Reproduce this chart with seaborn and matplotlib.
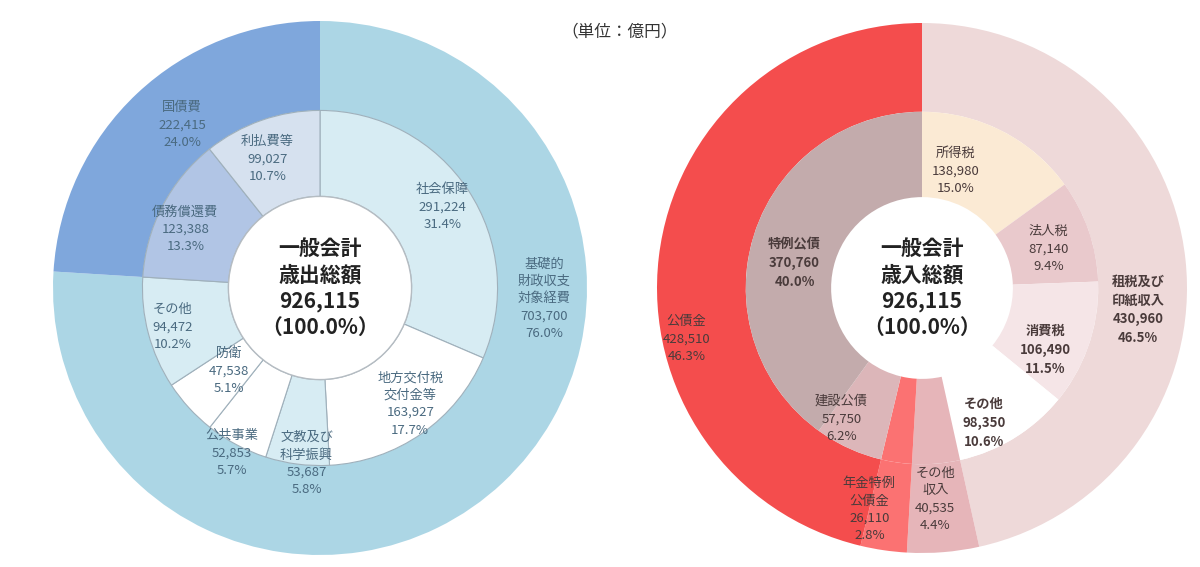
import numpy as np
import matplotlib
matplotlib.use("Agg")
import matplotlib.pyplot as plt
import seaborn as sns

sns.set_theme(style="white")
plt.rcParams['font.family'] = ['Noto Sans CJK JP', 'DejaVu Sans']

# 歳出（左）
exp_outer_names = ['基礎的\n財政収支\n対象経費', '国債費']
exp_outer_values = [703700, 222415]
exp_inner_names = ['社会保障', '地方交付税\n交付金等', '文教及び\n科学振興', '公共事業',
                   '防衛', 'その他', '債務償還費', '利払費等']
exp_inner_values = [291224, 163927, 53687, 52853, 47538, 94472, 123388, 99027]

# 歳入（右）
rev_outer_names = ['租税及び\n印紙収入', 'その他\n収入', '年金特例\n公債金', '公債金']
rev_outer_values = [430960, 40535, 26110, 428510]
rev_inner_names = ['所得税', '法人税', '消費税', 'その他', 'その他収入', '年金特例公債金',
                   '建設公債', '特例公債']
rev_inner_values = [138980, 87140, 106490, 98350, 40535, 26110, 57750, 370760]

total = 926115

# colours
exp_outer_colors = ['#acd6e5', '#7fa7dc']
exp_inner_colors = ['#d7ecf3', '#ffffff', '#d7ecf3', '#ffffff', '#ffffff', '#d7ecf3',
                    '#b1c5e5', '#d6e1ef']
rev_outer_colors = ['#eed9d9', '#e6b5b9', '#fb7272', '#f44d4d']
rev_inner_colors = ['#fbead4', '#e9c9cc', '#f5e5e7', '#ffffff', '#e6b5b9', '#fb7272',
                    '#dcb6b9', '#c3abac']

# label placement (radius, angle shift in degrees); None = no label
exp_outer_lab = [(0.84, -44), (0.80, 3)]
exp_inner_lab = [(0.55, 0), (0.55, -3), (0.66, -3), (0.70, 0), (0.46, 0), (0.57, 0),
                 (0.55, -4), (0.52, -3)]
rev_outer_lab = [(0.82, 12), (0.80, 1), (0.86, 5), (0.91, -19)]
rev_inner_lab = [(0.46, -11), (0.50, 2), (0.52, 8), (0.56, 7), None, None, (0.58, 7),
                 (0.49, -7)]
rev_bold = ['租税及び\n印紙収入', '消費税', 'その他', '特例公債']

R_OUT, R_IN, R_HOLE = 1.0, 0.665, 0.343

W, H = 1200, 567
fig = plt.figure(figsize=(12, 5.67), dpi=100)


def make_ax(cx, cy, r):
    ax = fig.add_axes([(cx - r) / W, (H - cy - r) / H, 2 * r / W, 2 * r / H])
    ax.set_xlim(-1, 1)
    ax.set_ylim(-1, 1)
    ax.set_aspect('equal')
    ax.axis('off')
    return ax


def add_labels(ax, names, values, specs, color, bold=()):
    vals = np.array(values, dtype=float)
    ends = np.cumsum(vals) / vals.sum() * 360
    mids = ends - vals / vals.sum() * 180
    for name, v, mid, spec in zip(names, values, mids, specs):
        if spec is None:
            continue
        r, shift = spec
        a = np.deg2rad(mid + shift)
        txt = f"{name}\n{v:,}\n{v / total * 100:.1f}%"
        ax.text(r * np.sin(a), r * np.cos(a), txt, ha='center', va='center',
                fontsize=9.5, color=color, linespacing=1.45,
                fontweight='bold' if name in bold else 'normal')


def donut(ax, outer_vals, outer_cols, inner_vals, inner_cols, inner_edge):
    ax.pie(outer_vals, radius=R_OUT, colors=outer_cols, startangle=90, counterclock=False,
           wedgeprops=dict(width=R_OUT - R_IN, edgecolor='none'))
    ax.pie(inner_vals, radius=R_IN, colors=inner_cols, startangle=90, counterclock=False,
           wedgeprops=dict(width=R_IN - R_HOLE, edgecolor=inner_edge, linewidth=0.8))
    ax.set_xlim(-1, 1)
    ax.set_ylim(-1, 1)


# left: 歳出
axl = make_ax(320, 288, 267)
donut(axl, exp_outer_values, exp_outer_colors, exp_inner_values, exp_inner_colors, '#9fb0bb')
axl.add_patch(plt.Circle((0, 0), R_HOLE, facecolor='white', edgecolor='#b5bcc2', lw=1.0))
add_labels(axl, exp_outer_names, exp_outer_values, exp_outer_lab, '#4a6a80')
add_labels(axl, exp_inner_names, exp_inner_values, exp_inner_lab, '#4a6a80')
axl.text(0, 0, f"一般会計\n歳出総額\n{total:,}\n（100.0%）", ha='center', va='center',
         fontsize=15, fontweight='bold', color='#222222', linespacing=1.3)

# right: 歳入
axr = make_ax(922, 288, 265)
donut(axr, rev_outer_values, rev_outer_colors, rev_inner_values, rev_inner_colors, 'none')
add_labels(axr, rev_outer_names, rev_outer_values, rev_outer_lab, '#4a3b3b', rev_bold)
add_labels(axr, rev_inner_names, rev_inner_values, rev_inner_lab, '#4a3b3b', rev_bold)
axr.text(0, 0, f"一般会計\n歳入総額\n{total:,}\n（100.0%）", ha='center', va='center',
         fontsize=15, fontweight='bold', color='#222222', linespacing=1.3)

fig.text(620 / W, 1 - 32 / H, '（単位：億円）', ha='center', va='center', fontsize=12,
         color='#333333')

fig.savefig('out.png', dpi=100)
